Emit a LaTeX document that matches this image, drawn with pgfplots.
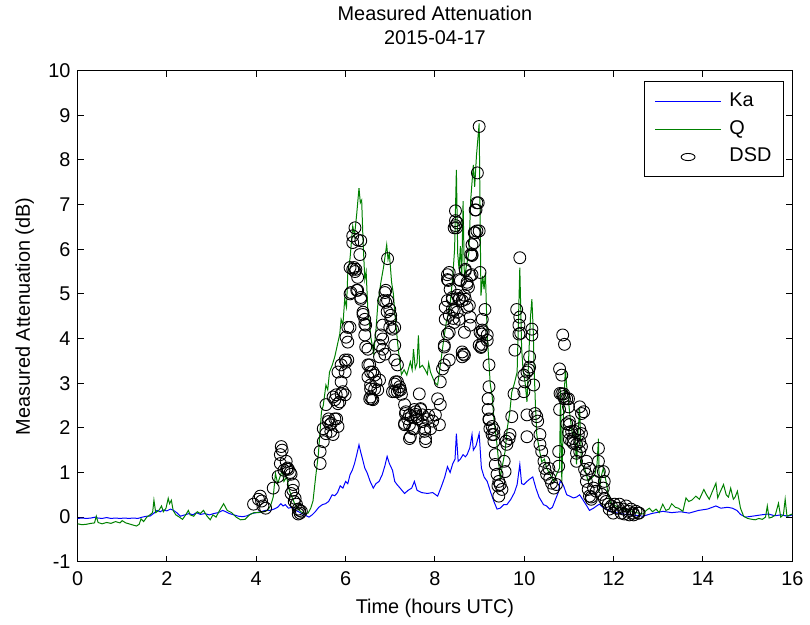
\documentclass[border=0pt]{standalone}
\usepackage{fontspec}
\setmainfont{Liberation Sans}
\usepackage{pgfplots}
\pgfplotsset{compat=1.18}
\definecolor{kablue}{rgb}{0,0,1}
\definecolor{qgreen}{rgb}{0,0.5,0}
\begin{document}
\begin{tikzpicture}
\begin{axis}[
  scale only axis,
  width=359.5pt, height=247pt,
  xmin=0, xmax=16, ymin=-1, ymax=10,
  xtick={0,2,...,16},
  ytick={-1,0,...,10},
  yticklabels={-1,0,1,2,3,4,5,6,7,8,9,10},
  /pgf/number format/assume math mode=true,
  tick align=inside,
  major tick length=3pt,
  tick style={black, line width=0.5pt},
  axis line style={line width=0.5pt},
  font=\fontsize{10}{12}\selectfont,
  xticklabel style={yshift=-1.5pt},
  title={Measured Attenuation\\2015-04-17},
  title style={at={(axis description cs:0.5,1)}, anchor=south, yshift=4pt, align=center, inner sep=3pt, font=\fontsize{10}{12}\selectfont},
  xlabel={Time (hours UTC)},
  xlabel style={at={(axis description cs:0.5,0)}, anchor=base, yshift=-26pt},
  ylabel={Measured Attenuation (dB)},
  ylabel style={at={(axis description cs:-0.0668,0.5)}, anchor=base, rotate=0},
  legend style={at={(axis description cs:0.9875,0.978)}, anchor=north east, line width=0.5pt, inner xsep=5pt, inner ysep=4pt, outer sep=0pt, row sep=2pt, column sep=3pt, nodes={inner sep=1pt, text height=7.5pt, text depth=2.5pt}, font=\fontsize{10}{12}\selectfont},
  legend cell align=left,
  legend image post style={xscale=1.94, mark size=1.8pt},
]
\addplot[kablue, line width=0.5pt] coordinates {
(0.00,-0.03) (0.10,-0.02) (0.20,-0.03) (0.30,-0.02) (0.40,0.00) (0.45,-0.02) (0.55,-0.03) (0.65,-0.01) (0.75,-0.03) (0.85,-0.02) (0.95,-0.03) (1.05,-0.02) (1.15,-0.03) (1.25,-0.02) (1.35,-0.03) (1.45,0.00) (1.55,0.02) (1.62,0.02) (1.70,0.08) (1.78,0.15) (1.85,0.12) (1.92,0.16) (2.00,0.14) (2.08,0.18) (2.15,0.15) (2.22,0.10) (2.30,0.02) (2.40,0.05) (2.50,0.08) (2.58,0.05) (2.66,0.10) (2.75,0.06) (2.85,0.08) (2.95,0.05) (3.05,0.08) (3.15,0.10) (3.25,0.15) (3.32,0.12) (3.40,0.08) (3.50,0.05) (3.60,0.02) (3.70,0.01) (3.80,0.03) (3.90,0.08) (4.00,0.10) (4.10,0.12) (4.20,0.15) (4.30,0.15) (4.40,0.18) (4.48,0.22) (4.55,0.30) (4.60,0.25) (4.65,0.28) (4.72,0.20) (4.80,0.22) (4.88,0.15) (4.95,0.12) (5.02,0.08) (5.10,0.04) (5.18,0.00) (5.25,0.05) (5.32,0.12) (5.40,0.22) (5.48,0.28) (5.55,0.30) (5.62,0.35) (5.70,0.50) (5.76,0.48) (5.82,0.55) (5.88,0.70) (5.94,0.65) (6.00,0.80) (6.05,0.75) (6.10,0.95) (6.15,1.05) (6.20,1.20) (6.25,1.40) (6.30,1.62) (6.34,1.45) (6.38,1.30) (6.43,1.10) (6.48,1.00) (6.55,0.80) (6.62,0.65) (6.68,0.75) (6.75,0.80) (6.82,0.95) (6.88,1.15) (6.93,1.36) (6.98,1.20) (7.05,1.05) (7.10,0.80) (7.15,0.73) (7.22,0.65) (7.32,0.53) (7.40,0.60) (7.48,0.65) (7.54,0.80) (7.60,0.60) (7.70,0.55) (7.83,0.53) (7.95,0.55) (8.06,0.47) (8.15,0.70) (8.22,0.90) (8.28,1.13) (8.34,1.00) (8.40,1.20) (8.45,1.30) (8.48,1.87) (8.52,1.25) (8.57,1.30) (8.63,1.40) (8.68,1.35) (8.72,1.40) (8.78,1.55) (8.83,1.85) (8.86,1.50) (8.92,1.60) (8.99,1.87) (9.04,1.10) (9.10,0.90) (9.17,0.80) (9.25,0.55) (9.32,0.35) (9.39,0.18) (9.46,0.20) (9.54,0.28) (9.61,0.28) (9.70,0.40) (9.78,0.55) (9.84,0.73) (9.90,1.18) (9.94,0.75) (9.99,0.73) (10.06,0.80) (10.12,0.85) (10.19,0.90) (10.26,0.65) (10.33,0.45) (10.43,0.28) (10.50,0.25) (10.57,0.18) (10.63,0.22) (10.70,0.40) (10.76,0.55) (10.80,0.80) (10.85,0.76) (10.88,0.70) (10.95,0.50) (11.02,0.47) (11.10,0.43) (11.17,0.45) (11.24,0.50) (11.33,0.36) (11.40,0.25) (11.46,0.15) (11.55,0.20) (11.62,0.25) (11.68,0.29) (11.76,0.22) (11.84,0.18) (11.95,0.12) (12.05,0.10) (12.20,0.07) (12.40,0.05) (12.66,0.02) (12.85,0.08) (13.10,0.13) (13.30,0.10) (13.50,0.12) (13.69,0.09) (13.90,0.15) (14.10,0.18) (14.29,0.25) (14.40,0.20) (14.55,0.22) (14.66,0.20) (14.76,0.15) (14.84,0.06) (14.95,0.00) (15.10,0.02) (15.30,0.05) (15.47,0.07) (15.60,0.03) (15.75,0.05) (15.90,0.02) (16.00,0.05)
};
\addlegendentry{Ka}
\addplot[qgreen, line width=0.5pt] coordinates {
(0.00,-0.15) (0.10,-0.17) (0.20,-0.16) (0.30,-0.14) (0.38,-0.13) (0.42,0.02) (0.46,-0.12) (0.55,-0.15) (0.65,-0.12) (0.75,-0.14) (0.85,-0.10) (0.95,-0.13) (1.00,-0.08) (1.08,-0.13) (1.15,-0.15) (1.25,-0.18) (1.32,-0.20) (1.38,-0.16) (1.42,-0.04) (1.48,-0.10) (1.55,0.00) (1.62,0.05) (1.68,0.10) (1.71,0.38) (1.75,0.10) (1.82,0.15) (1.88,0.25) (1.92,0.12) (1.98,0.20) (2.03,0.42) (2.06,0.30) (2.10,0.38) (2.14,0.15) (2.20,0.05) (2.28,0.00) (2.35,-0.05) (2.42,0.05) (2.48,0.15) (2.52,0.05) (2.60,0.02) (2.68,0.12) (2.75,0.08) (2.82,0.15) (2.90,0.02) (2.97,-0.06) (3.03,0.05) (3.10,0.00) (3.18,0.15) (3.27,0.30) (3.35,0.15) (3.45,0.10) (3.55,0.00) (3.65,-0.06) (3.75,-0.05) (3.85,0.05) (3.95,0.10) (4.05,0.10) (4.15,0.12) (4.25,0.15) (4.32,0.25) (4.38,0.45) (4.43,0.98) (4.48,0.75) (4.53,0.90) (4.58,1.05) (4.62,0.80) (4.68,0.90) (4.74,0.60) (4.80,0.45) (4.86,0.30) (4.92,0.20) (5.00,0.12) (5.08,0.08) (5.16,0.09) (5.22,0.20) (5.27,0.36) (5.33,0.90) (5.39,1.40) (5.46,2.36) (5.50,2.50) (5.56,2.96) (5.60,2.85) (5.64,3.25) (5.70,3.40) (5.76,3.60) (5.83,3.92) (5.87,4.10) (5.90,4.43) (5.94,4.30) (5.98,4.88) (6.02,4.70) (6.05,5.48) (6.10,5.80) (6.16,6.52) (6.20,6.30) (6.25,6.80) (6.30,7.37) (6.33,7.04) (6.36,7.10) (6.39,6.20) (6.43,5.33) (6.46,5.50) (6.50,4.60) (6.54,4.30) (6.57,4.00) (6.63,3.66) (6.68,4.20) (6.72,4.74) (6.79,5.26) (6.85,5.60) (6.92,6.10) (6.95,5.77) (6.98,5.90) (7.03,5.26) (7.07,5.00) (7.10,4.60) (7.17,3.85) (7.21,3.50) (7.25,3.19) (7.31,3.30) (7.37,3.18) (7.45,3.48) (7.49,3.30) (7.52,3.76) (7.56,3.33) (7.60,3.45) (7.63,4.07) (7.66,3.35) (7.72,3.40) (7.78,3.30) (7.83,3.20) (7.86,3.45) (7.90,3.25) (7.96,3.10) (8.01,3.00) (8.06,2.96) (8.12,3.40) (8.20,4.00) (8.26,4.40) (8.32,4.60) (8.35,4.88) (8.40,5.40) (8.44,6.00) (8.48,7.78) (8.51,5.90) (8.54,5.55) (8.57,6.07) (8.60,5.40) (8.63,7.08) (8.66,5.32) (8.70,5.60) (8.76,5.92) (8.80,7.10) (8.86,7.89) (8.89,7.40) (8.93,8.10) (8.99,8.82) (9.03,4.96) (9.07,5.40) (9.10,5.10) (9.13,5.48) (9.17,4.07) (9.24,2.96) (9.28,2.73) (9.32,2.20) (9.39,1.62) (9.46,0.87) (9.50,1.10) (9.57,1.47) (9.62,2.00) (9.67,2.30) (9.72,2.80) (9.78,3.00) (9.84,3.25) (9.90,5.59) (9.94,3.80) (9.97,3.33) (10.02,3.00) (10.06,2.58) (10.10,3.60) (10.14,4.50) (10.17,4.88) (10.20,4.20) (10.22,3.33) (10.25,2.50) (10.28,1.84) (10.34,1.50) (10.39,1.24) (10.45,1.30) (10.50,1.10) (10.58,0.95) (10.66,0.80) (10.72,0.95) (10.79,1.10) (10.81,2.85) (10.84,0.80) (10.88,2.40) (10.92,3.33) (10.95,2.92) (10.99,2.60) (11.02,2.29) (11.07,1.90) (11.13,1.84) (11.17,1.18) (11.21,2.00) (11.24,2.43) (11.28,1.18) (11.35,1.10) (11.43,0.80) (11.50,0.87) (11.58,0.95) (11.63,1.20) (11.66,1.76) (11.68,0.58) (11.72,0.90) (11.77,1.10) (11.83,0.80) (11.90,0.40) (11.95,0.29) (12.05,0.25) (12.20,0.18) (12.35,0.15) (12.50,0.10) (12.66,0.07) (12.73,0.15) (12.80,0.20) (12.87,0.12) (12.95,0.18) (13.02,0.10) (13.10,0.29) (13.17,0.15) (13.24,0.18) (13.30,0.30) (13.38,0.22) (13.45,0.20) (13.55,0.13) (13.62,0.43) (13.68,0.35) (13.75,0.38) (13.84,0.47) (13.92,0.40) (14.02,0.62) (14.08,0.50) (14.14,0.40) (14.20,0.55) (14.29,0.76) (14.33,0.43) (14.38,0.55) (14.46,0.73) (14.52,0.50) (14.57,0.45) (14.62,0.65) (14.68,0.40) (14.72,0.45) (14.77,0.58) (14.84,0.20) (14.91,0.02) (15.00,-0.03) (15.10,-0.05) (15.17,-0.06) (15.25,-0.03) (15.33,-0.05) (15.40,0.00) (15.44,0.25) (15.48,-0.02) (15.55,0.00) (15.62,0.05) (15.69,0.31) (15.74,0.00) (15.80,0.05) (15.84,0.40) (15.88,0.02) (15.95,0.05) (16.00,0.07)
};
\addlegendentry{Q}
\addplot[only marks, mark=o, mark size=3pt, black, line width=0.45pt] coordinates {
(3.94,0.29) (4.09,0.47) (4.12,0.36) (4.21,0.20) (4.05,0.40) (4.15,0.25) (4.38,0.65) (4.49,0.91) (4.54,1.20) (4.56,1.58) (4.58,1.50) (4.54,1.40) (4.67,1.25) (4.72,1.07) (4.70,1.10) (4.76,1.00) (4.78,0.96) (4.83,0.73) (4.78,0.53) (4.87,0.42) (4.90,0.29) (4.94,0.18) (4.98,0.09) (4.94,0.07) (5.01,0.13) (4.97,0.15) (4.82,0.60) (4.85,0.35) (4.62,1.05) (4.68,1.08)
(5.43,1.20) (5.43,1.47) (5.50,1.69) (5.56,1.87) (5.50,1.98) (5.61,2.14) (5.65,2.07) (5.76,2.20) (5.83,2.03) (5.72,1.85) (5.67,1.92) (5.56,2.52) (5.72,2.69) (5.76,2.63) (5.83,2.54) (5.87,2.58) (5.90,2.76) (5.99,2.74) (5.90,3.03) (5.94,2.81) (5.79,2.74) (5.99,3.25) (6.01,3.47) (6.05,3.52) (5.90,3.41) (5.83,3.25) (5.99,3.52) (6.05,3.92) (6.10,4.25) (6.01,4.03) (6.10,5.00) (6.16,5.55) (6.05,4.25) (5.62,2.20) (5.68,2.10) (5.80,2.20)
(6.21,6.48) (6.16,6.30) (6.27,6.21) (6.16,6.15) (6.34,6.19) (6.32,5.88) (6.10,5.59) (6.19,5.59) (6.23,5.55) (6.21,5.50) (6.27,5.37) (6.12,5.03) (6.25,5.08) (6.34,4.88) (6.39,4.59) (6.43,4.43) (6.45,4.30) (6.43,4.08) (6.45,3.81) (6.27,5.08) (6.34,4.92) (6.39,4.54) (6.43,4.32) (6.50,3.76) (6.54,3.41) (6.61,3.25) (6.50,3.14) (6.56,2.87) (6.65,2.87) (6.72,2.85) (6.56,2.69) (6.61,2.63) (6.59,2.65) (6.50,3.41) (6.56,3.25) (6.65,3.18) (6.68,3.03) (6.56,2.96) (6.76,3.07) (6.54,2.65)
(6.79,4.08) (6.76,3.85) (6.83,3.76) (6.76,3.59) (6.88,5.03) (6.90,5.08) (6.94,4.85) (6.85,4.85) (6.99,4.65) (7.01,4.43) (6.99,4.25) (7.10,4.25) (6.94,5.79) (7.10,3.85) (7.10,3.52) (7.16,3.41) (7.16,3.03) (7.21,2.92) (7.23,2.85) (7.25,2.75) (7.10,2.81) (6.83,3.99) (6.83,4.30) (6.90,4.81) (6.93,4.60) (7.01,4.52) (7.05,4.21) (6.88,3.65) (7.10,2.98)
(7.32,2.52) (7.34,2.32) (7.39,2.20) (7.32,2.07) (7.43,2.07) (7.45,1.80) (7.54,1.98) (7.61,2.20) (7.68,2.41) (7.65,2.76) (7.54,2.41) (7.57,2.30) (7.72,2.29) (7.77,1.98) (7.79,1.76) (7.12,3.03) (7.16,2.81) (7.20,2.85) (7.05,2.81) (7.35,2.36) (7.32,2.10) (7.43,2.29) (7.47,2.25) (7.50,1.98) (7.43,1.76) (7.57,2.36) (7.60,2.25) (7.68,2.43) (7.72,2.14) (7.77,1.92) (7.83,2.20) (7.86,2.28) (7.90,1.98) (7.79,1.69) (7.95,2.15) (8.01,2.29) (8.06,2.65) (8.12,2.52) (8.10,2.07)
(8.12,3.03) (8.17,3.32) (8.21,3.41) (8.21,3.85) (8.28,4.10) (8.23,4.70) (8.28,5.32) (8.32,5.48) (8.34,5.10) (8.39,4.88) (8.39,4.65) (8.43,4.36) (8.50,4.59) (8.54,4.88) (8.61,4.85) (8.68,4.88) (8.46,6.86) (8.50,6.59) (8.43,6.48) (8.48,6.48) (8.54,5.32) (8.68,5.55) (8.72,5.26) (8.79,5.41) (8.77,4.74) (8.54,4.43) (8.66,4.14) (8.79,4.30) (8.61,3.70) (8.66,3.63) (8.83,5.88) (8.88,6.15) (8.90,6.37) (8.94,6.41) (8.90,6.88) (8.94,7.04) (8.95,7.71) (9.01,5.48) (9.06,4.43) (9.12,4.65) (9.01,4.14) (9.05,4.10) (9.17,4.08) (9.06,3.87) (8.99,3.85) (9.03,3.80) (8.99,8.75) (8.97,7.04) (8.92,6.88) (8.99,6.41) (8.88,6.37) (8.83,6.10) (8.83,5.86) (8.80,5.88) (8.68,5.52) (8.83,5.43) (8.72,5.21) (8.75,5.15) (8.57,5.30) (8.46,6.64) (8.46,6.53) (8.28,5.43) (8.30,5.30) (8.39,4.92) (8.28,4.85) (8.50,4.97) (8.55,4.90) (8.66,4.97) (8.32,4.52) (8.43,4.63) (8.41,4.45) (8.72,4.70) (8.79,4.48) (8.23,4.43) (8.32,4.14) (8.21,3.81) (8.32,3.52) (8.61,3.59) (8.64,3.65) (9.06,4.19) (9.08,4.15) (9.17,3.96) (9.04,3.82)
(9.21,3.41) (9.21,2.92) (9.19,2.65) (9.19,2.41) (9.21,2.20) (9.28,2.03) (9.32,1.85) (9.32,1.69) (9.21,2.18) (9.23,1.98) (9.32,1.96) (9.28,1.85) (9.35,1.40) (9.35,1.18) (9.39,0.96) (9.43,0.80) (9.46,0.73) (9.41,0.70) (9.50,0.62) (9.43,0.47) (9.57,1.02) (9.55,1.25) (9.61,1.63) (9.66,1.76) (9.68,1.85) (9.59,1.70) (9.72,2.25) (9.79,3.74) (9.77,2.76) (9.83,4.65) (9.90,4.48) (9.88,4.30) (9.88,4.10) (9.92,4.12) (9.99,3.18) (10.01,3.03) (10.06,3.25) (9.99,2.81) (10.06,2.29) (10.06,1.80) (9.90,5.81) (10.12,3.59) (10.12,3.36) (10.17,4.21) (10.17,4.08) (10.10,3.30) (10.21,2.96) (10.24,2.32) (10.28,2.25) (10.30,2.15) (10.35,1.85) (10.35,1.63) (10.39,1.47) (10.44,1.25) (10.46,1.09) (10.55,1.09) (10.50,0.96) (10.57,0.87) (10.61,0.76) (10.66,0.65) (10.72,0.73) (10.77,1.47) (10.79,2.41) (10.84,2.76) (10.79,3.32) (10.84,3.18) (10.86,4.08) (10.90,3.87) (10.88,2.76) (10.90,2.65) (10.99,2.65) (10.99,2.47) (11.01,2.14) (10.95,2.09) (10.99,1.90) (11.10,1.76) (11.06,1.70) (11.13,1.92) (11.17,1.63) (11.24,2.47) (11.33,2.36) (11.21,1.85) (11.24,1.69) (11.28,1.58) (11.24,1.47) (11.17,1.25) (11.39,1.25) (11.46,1.09) (11.39,0.80) (11.43,0.62) (11.46,0.47) (11.50,0.45)
(10.77,1.14) (10.80,2.77) (10.88,2.70) (10.95,2.65) (11.01,2.07) (11.06,1.92) (11.01,1.74) (11.10,1.65) (11.28,2.32) (11.24,1.98) (11.28,1.87) (11.17,1.43) (11.35,1.07) (11.39,0.96) (11.55,0.65) (11.50,0.40) (11.57,0.80) (11.61,0.58) (11.66,1.54) (11.66,1.25) (11.68,1.02) (11.77,1.02) (11.79,0.80) (11.77,0.65) (11.73,0.51) (11.79,0.42) (11.83,0.35) (11.88,0.29) (11.95,0.25) (12.02,0.29) (12.10,0.20) (12.13,0.29) (12.22,0.18) (12.28,0.25) (12.33,0.13) (12.39,0.18) (12.44,0.09) (12.50,0.13) (12.55,0.09) (11.90,0.18) (11.99,0.09) (12.17,0.09) (12.24,0.07) (12.06,0.20) (12.57,0.09) (12.35,0.05) (12.45,0.05)
};
\addlegendentry{DSD}
\end{axis}
\path (current axis.south west) ++(-39pt,-29pt) rectangle ++(405pt,310pt);
\end{tikzpicture}
\end{document}
